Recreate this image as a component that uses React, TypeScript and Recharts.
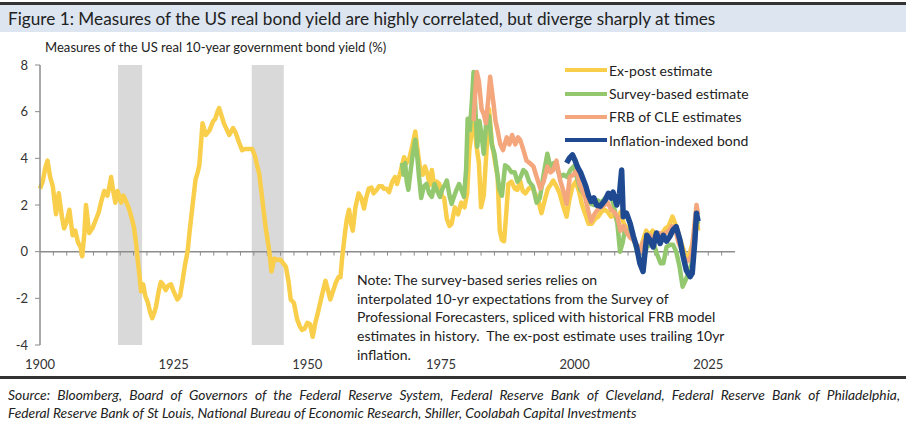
import React from 'react';
import { LineChart, Line, XAxis, YAxis, ReferenceArea, ReferenceLine } from 'recharts';

const yTicks = [-4, -2, 0, 2, 4, 6, 8];
const xTicks = [1900, 1925, 1950, 1975, 2000, 2025];
const zeroTicks = Array.from({ length: 51 }, (_, i) => 1902.5 + i * 2.5);
const recessions: [number, number][] = [
  [1914.6, 1919.1],
  [1939.6, 1945.6],
];

// [year, real yield %]
const exPost: [number, number][] = [
  [1900.0, 2.7], [1900.5, 3.0], [1901.0, 3.6], [1901.4, 3.9], [1901.9, 3.2], [1902.4, 2.8], [1903.0, 1.6],
  [1903.5, 2.5], [1904.1, 1.5], [1904.5, 1.0], [1905.0, 1.3], [1905.5, 1.8], [1906.1, 0.7], [1906.6, 0.9],
  [1907.1, 0.4], [1907.6, 0.2], [1907.9, -0.2], [1908.3, 0.8], [1908.6, 2.0], [1909.2, 0.8], [1909.8, 1.0],
  [1910.5, 1.4], [1911.0, 1.7], [1911.4, 2.1], [1912.0, 2.6], [1912.6, 2.4], [1913.0, 2.8], [1913.3, 3.2],
  [1913.7, 2.6], [1914.1, 2.1], [1914.5, 2.6], [1914.8, 2.4], [1915.2, 2.1], [1915.6, 2.4], [1916.2, 2.1],
  [1916.7, 1.8], [1917.2, 1.4], [1917.6, 1.0], [1918.0, 0.3], [1918.2, -0.2], [1918.6, -1.0], [1918.9, -1.7],
  [1919.3, -1.4], [1919.7, -1.9], [1920.2, -2.2], [1920.6, -2.6], [1921.0, -2.85], [1921.4, -2.6],
  [1921.7, -2.35], [1922.2, -1.7], [1922.6, -1.3], [1923.0, -1.4], [1923.5, -1.65], [1924.0, -1.45],
  [1924.5, -1.4], [1925.0, -1.7], [1925.7, -2.05], [1926.2, -1.9], [1926.6, -1.35], [1927.1, -0.6],
  [1927.6, 0.0], [1928.0, 0.9], [1928.5, 1.9], [1929.1, 3.1], [1929.5, 3.4], [1929.8, 3.7], [1930.1, 4.6],
  [1930.4, 5.5], [1931.0, 5.0], [1931.7, 5.2], [1932.4, 5.6], [1932.8, 5.7], [1933.2, 6.0], [1933.5, 6.15],
  [1934.0, 5.8], [1934.4, 5.5], [1935.0, 5.2], [1935.4, 5.0], [1936.1, 5.3], [1936.6, 5.1], [1937.2, 4.7],
  [1937.8, 4.35], [1938.3, 4.4], [1938.8, 4.4], [1939.3, 4.4], [1939.7, 4.4], [1940.2, 4.1], [1940.6, 3.7],
  [1941.0, 3.35], [1941.6, 2.2], [1942.2, 1.05], [1942.9, 0.0], [1943.3, -0.85], [1943.8, -0.3],
  [1944.4, -0.35], [1945.0, -0.35], [1945.5, -0.5], [1946.0, -0.65], [1946.5, -1.3], [1946.9, -2.05],
  [1947.5, -2.2], [1948.1, -2.9], [1948.6, -3.2], [1949.0, -3.35], [1949.5, -3.3], [1950.0, -3.05],
  [1950.5, -3.1], [1951.0, -3.65], [1951.5, -3.05], [1952.0, -2.6], [1952.4, -2.2], [1952.8, -1.8],
  [1953.4, -1.25], [1953.8, -1.6], [1954.3, -2.05], [1954.8, -1.7], [1955.3, -1.35], [1955.8, -1.1],
  [1956.2, -1.1], [1956.5, -0.3], [1956.8, 0.3], [1957.1, 0.9], [1957.4, 1.4], [1957.8, 1.8], [1958.2, 1.2],
  [1958.5, 0.9], [1959.0, 1.9], [1959.6, 2.5], [1960.1, 2.3], [1960.6, 1.85], [1961.0, 2.3], [1961.5, 2.7],
  [1962.0, 2.75], [1962.4, 2.5], [1963.0, 2.65], [1963.4, 2.8], [1964.0, 2.8], [1964.3, 2.7], [1964.8, 2.7],
  [1965.3, 2.55], [1965.9, 3.0], [1966.4, 3.2], [1966.8, 2.9], [1967.4, 3.4], [1968.1, 4.05], [1968.6, 3.8],
  [1969.1, 4.0], [1969.6, 4.5], [1970.2, 5.15], [1970.8, 4.05], [1971.2, 3.4], [1971.6, 3.3], [1972.0, 3.65],
  [1972.5, 3.3], [1972.9, 2.85], [1973.3, 3.5], [1973.8, 2.65], [1974.2, 3.0], [1974.7, 2.9], [1975.2, 2.35],
  [1975.6, 2.3], [1976.1, 1.4], [1976.6, 1.1], [1977.0, 1.2], [1977.6, 1.9], [1978.2, 1.6], [1978.8, 2.1],
  [1979.4, 1.9], [1979.9, 2.5], [1980.3, 4.35], [1980.8, 5.2], [1981.2, 5.8], [1981.6, 4.6], [1982.1, 3.8],
  [1982.5, 1.9], [1983.0, 2.4], [1983.4, 3.9], [1984.0, 6.1], [1984.5, 4.7], [1985.0, 4.0], [1985.6, 3.2],
  [1986.0, 0.9], [1986.4, 0.5], [1986.8, 0.45], [1987.2, 1.6], [1987.6, 2.9], [1988.2, 3.0], [1988.8, 2.7],
  [1989.3, 2.65], [1989.8, 3.05], [1990.3, 2.6], [1990.8, 2.5], [1991.4, 2.7], [1992.0, 2.8], [1992.6, 2.5],
  [1993.2, 2.2], [1993.8, 1.65], [1994.4, 2.2], [1995.0, 2.7], [1995.6, 2.9], [1996.0, 3.05], [1996.6, 2.8],
  [1997.2, 2.5], [1997.8, 2.0], [1998.5, 1.5], [1999.0, 2.2], [1999.6, 2.8], [2000.2, 3.0], [2000.8, 2.6],
  [2001.4, 2.0], [2002.0, 1.6], [2002.6, 1.2], [2003.2, 1.2], [2003.8, 1.4], [2004.4, 1.5], [2005.0, 1.7],
  [2005.6, 1.8], [2006.2, 1.7], [2006.8, 1.5], [2007.4, 1.6], [2008.0, 1.3], [2008.6, 1.7], [2009.2, 1.2],
  [2009.8, 1.0], [2010.4, 0.8], [2011.0, 0.5], [2011.6, 0.3], [2012.2, 0.0], [2012.8, 0.5], [2013.4, 0.9],
  [2014.0, 0.7], [2014.6, 0.9], [2015.2, 0.7], [2015.8, 0.6], [2016.4, 0.8], [2017.0, 1.0], [2017.6, 1.1],
  [2018.3, 1.5], [2018.8, 1.2], [2019.4, 0.8], [2019.9, 0.4], [2020.5, 0.0], [2020.9, -0.35], [2021.5, -0.1],
  [2022.0, 0.3], [2022.5, 1.0], [2022.9, 1.4], [2023.1, 0.9],
];

const survey: [number, number][] = [
  [1967.7, 3.8], [1968.0, 3.3], [1968.3, 3.8], [1968.6, 3.0], [1968.9, 2.65], [1969.4, 3.6], [1969.8, 4.3],
  [1970.2, 4.8], [1970.6, 4.0], [1970.9, 3.2], [1971.3, 2.3], [1971.8, 2.8], [1972.3, 2.9], [1972.8, 2.5],
  [1973.3, 2.35], [1973.8, 2.9], [1974.3, 2.6], [1974.8, 2.35], [1975.3, 2.7], [1975.8, 2.9], [1976.1, 3.05],
  [1976.6, 2.4], [1977.0, 2.05], [1977.5, 2.4], [1977.9, 2.65], [1978.4, 2.9], [1978.9, 2.6], [1979.3, 2.35],
  [1979.7, 3.5], [1980.0, 5.7], [1980.4, 5.2], [1980.8, 6.5], [1981.1, 7.7], [1981.4, 6.3], [1981.8, 4.5],
  [1982.2, 5.6], [1982.6, 5.0], [1983.0, 4.2], [1983.6, 5.9], [1984.0, 5.8], [1984.5, 4.6], [1985.0, 4.2],
  [1985.5, 3.4], [1985.9, 2.7], [1986.4, 2.4], [1987.0, 3.7], [1987.6, 3.6], [1988.2, 3.4], [1988.8, 3.4],
  [1989.3, 3.0], [1989.9, 3.2], [1990.4, 3.5], [1990.9, 3.4], [1991.5, 3.0], [1992.2, 2.8], [1992.9, 2.1],
  [1993.5, 2.3], [1994.2, 3.3], [1994.9, 4.2], [1995.5, 3.6], [1996.1, 3.8], [1996.7, 3.6], [1997.3, 3.2],
  [1997.9, 3.3], [1998.6, 3.2], [1999.2, 3.5], [1999.8, 3.65], [2000.4, 3.2], [2001.1, 2.65], [2001.7, 2.5],
  [2002.3, 2.3], [2003.0, 2.05], [2003.7, 2.0], [2004.3, 2.2], [2005.0, 2.1], [2005.7, 2.3], [2006.3, 2.4],
  [2006.7, 2.5], [2007.3, 2.0], [2008.0, 1.2], [2008.5, 0.0], [2009.0, 0.4], [2009.4, 0.95], [2010.0, 0.9],
  [2010.6, 0.6], [2011.1, 0.5], [2011.8, -0.1], [2012.4, -0.5], [2012.9, -0.3], [2013.5, 0.2], [2014.2, 0.3],
  [2014.8, 0.35], [2015.4, -0.1], [2016.1, -0.5], [2016.6, -0.5], [2017.2, 0.2], [2017.9, 0.3], [2018.4, 0.3],
  [2019.0, 0.0], [2019.6, -0.6], [2020.2, -1.5], [2020.8, -1.2], [2021.3, -0.9], [2021.9, -0.5],
  [2022.5, 0.8], [2022.8, 1.5], [2023.1, 1.2],
];

const frbCle: [number, number][] = [
  [1981.1, 5.6], [1981.4, 6.8], [1981.7, 7.7], [1982.1, 7.3], [1982.6, 6.1], [1983.0, 5.9], [1983.4, 5.5],
  [1983.8, 6.4], [1984.2, 7.5], [1984.8, 6.4], [1985.2, 5.6], [1985.5, 5.3], [1986.1, 4.6], [1986.6, 4.35],
  [1987.3, 4.9], [1987.8, 4.6], [1988.3, 5.0], [1988.9, 4.6], [1989.4, 4.9], [1989.8, 4.8], [1990.5, 4.3],
  [1991.0, 3.9], [1991.6, 3.8], [1992.3, 3.65], [1992.9, 3.2], [1993.6, 2.7], [1994.2, 3.0], [1994.9, 3.65],
  [1995.5, 3.4], [1996.0, 3.5], [1996.6, 3.9], [1997.3, 3.05], [1997.9, 2.6], [1998.5, 2.05], [1999.1, 3.2],
  [1999.8, 3.3], [2000.4, 3.5], [2000.9, 2.9], [2001.5, 2.6], [2002.0, 2.3], [2002.6, 1.7], [2003.1, 1.3],
  [2003.7, 1.6], [2004.3, 1.8], [2004.9, 1.9], [2005.6, 2.0], [2006.2, 2.1], [2006.8, 1.8], [2007.4, 1.7],
  [2008.0, 1.5], [2008.6, 0.9], [2009.2, 1.1], [2009.8, 0.8], [2010.4, 0.6], [2011.0, 0.5], [2011.6, 0.3],
  [2012.2, 0.0], [2012.8, 0.4], [2013.4, 0.5], [2014.0, 0.7], [2014.6, 0.6], [2015.2, 0.7], [2015.8, 0.8],
  [2016.4, 0.75], [2017.0, 0.8], [2017.6, 0.9], [2018.2, 1.1], [2018.8, 1.0], [2019.4, 0.4], [2020.0, 0.1],
  [2020.6, -0.3], [2021.2, -0.4], [2021.8, -0.2], [2022.3, 0.9], [2022.8, 2.0], [2023.1, 1.6],
];

const indexed: [number, number][] = [
  [1998.5, 3.8], [1999.0, 4.0], [1999.6, 4.15], [2000.1, 3.9], [2000.6, 3.6], [2001.1, 3.4], [2001.6, 3.1],
  [2002.1, 2.8], [2002.6, 2.4], [2003.1, 2.15], [2003.6, 2.3], [2004.1, 2.0], [2004.8, 1.95], [2005.7, 2.2],
  [2006.3, 2.5], [2006.8, 2.3], [2007.2, 2.55], [2007.9, 2.0], [2008.4, 2.5], [2008.8, 3.5], [2009.1, 1.5],
  [2009.7, 1.65], [2010.4, 1.2], [2011.0, 0.65], [2011.6, 0.2], [2012.2, -0.5], [2012.8, -0.85],
  [2013.5, 0.7], [2014.1, 0.5], [2014.7, 0.2], [2015.3, 0.8], [2016.0, 0.35], [2016.6, 0.7], [2017.2, 0.45],
  [2017.8, 0.65], [2018.4, 0.93], [2019.0, 1.07], [2019.7, 0.5], [2020.3, -0.2], [2020.9, -0.8],
  [2021.6, -1.07], [2022.0, -0.93], [2022.5, 0.5], [2022.8, 1.65], [2023.1, 1.3],
];

const toRows = (pts: [number, number][]) => pts.map(([x, v]) => ({ x, v }));

const series = [
  { name: 'Ex-post estimate', color: '#F9CE4A', width: 4.5, data: toRows(exPost) },
  { name: 'Survey-based estimate', color: '#93C86F', width: 4.5, data: toRows(survey) },
  { name: 'FRB of CLE estimates', color: '#F4A67C', width: 4.5, data: toRows(frbCle) },
  { name: 'Inflation-indexed bond', color: '#1F4A92', width: 5.5, data: toRows(indexed) },
];

const noteLines = [
  'Note: The survey-based series relies on',
  'interpolated 10-yr expectations from the Survey of',
  'Professional Forecasters, spliced with historical FRB model',
  'estimates in history.  The ex-post estimate uses trailing 10yr',
  'inflation.',
];

const FONT = 'Lato, "Liberation Sans", sans-serif';

export default function App() {
  return (
    <div
      style={{
        position: 'absolute',
        left: 0,
        top: 0,
        width: 906,
        height: 423,
        background: '#fff',
        fontFamily: FONT,
        color: '#222',
        overflow: 'hidden',
      }}
    >
      <div style={{ position: 'absolute', left: 0, top: 2, width: 906, height: 3, background: '#333' }} />
      <div
        style={{
          position: 'absolute',
          left: 0,
          top: 5,
          width: 906,
          height: 27,
          background: '#DCE5F0',
          fontSize: 17.2,
          lineHeight: '27px',
          paddingLeft: 8,
          boxSizing: 'border-box',
          whiteSpace: 'nowrap',
        }}
      >
        Figure 1: Measures of the US real bond yield are highly correlated, but diverge sharply at times
      </div>
      <div style={{ position: 'absolute', left: 45, top: 39, fontSize: 13.1, whiteSpace: 'nowrap' }}>
        Measures of the US real 10-year government bond yield (%)
      </div>

      <LineChart
        width={906}
        height={423}
        margin={{ top: 65, right: 171, bottom: 48, left: 0 }}
        style={{ position: 'absolute', left: 0, top: 0 }}
      >
        <XAxis
          dataKey="x"
          type="number"
          domain={[1900, 2030]}
          ticks={xTicks}
          allowDuplicatedCategory={false}
          axisLine={false}
          tickLine={false}
          tickSize={0}
          tickMargin={15}
          height={30}
          tick={{ fontSize: 13, fill: '#333', fontFamily: FONT }}
        />
        <YAxis
          domain={[-4, 8]}
          ticks={yTicks}
          width={40}
          axisLine={{ stroke: '#8c8c8c', strokeWidth: 1.5 }}
          tickLine={{ stroke: '#8c8c8c' }}
          tickSize={5}
          tickMargin={7}
          tick={{ fontSize: 13, fill: '#333', fontFamily: FONT }}
        />
        {recessions.map(([a, b]) => (
          <ReferenceArea key={a} x1={a} x2={b} y1={-4} y2={8} fill="#D9D9D9" fillOpacity={1} stroke="none" />
        ))}
        <ReferenceLine y={0} stroke="#8c8c8c" strokeWidth={1.5} />
        {zeroTicks.map((t) => (
          <ReferenceLine
            key={t}
            segment={[
              { x: t, y: 0 },
              { x: t, y: -0.17 },
            ]}
            stroke="#8c8c8c"
            strokeWidth={1}
          />
        ))}
        {series.map((s) => (
          <Line
            key={s.name}
            data={s.data}
            dataKey="v"
            name={s.name}
            type="linear"
            stroke={s.color}
            strokeWidth={s.width}
            strokeLinejoin="round"
            dot={false}
            activeDot={false}
            isAnimationActive={false}
          />
        ))}
      </LineChart>

      <div style={{ position: 'absolute', left: 565, top: 58.5, fontSize: 14 }}>
        {series.map((s) => (
          <div key={s.name} style={{ display: 'flex', alignItems: 'center', height: 23.4 }}>
            <div style={{ width: 42, height: 4, background: s.color, marginRight: 2 }} />
            <span style={{ whiteSpace: 'nowrap' }}>{s.name}</span>
          </div>
        ))}
      </div>

      <div style={{ position: 'absolute', left: 357, top: 271, fontSize: 14, lineHeight: '18.7px' }}>
        {noteLines.map((l, i) => (
          <div key={i} style={{ whiteSpace: 'pre' }}>
            {l}
          </div>
        ))}
      </div>

      <div style={{ position: 'absolute', left: 0, top: 376, width: 906, height: 3, background: '#333' }} />
      <div
        style={{
          position: 'absolute',
          left: 8,
          top: 386,
          width: 892,
          fontSize: 13.8,
          lineHeight: '18px',
          fontStyle: 'italic',
        }}
      >
        <div style={{ textAlign: 'justify', textAlignLast: 'justify', whiteSpace: 'nowrap' }}>
          Source: Bloomberg, Board of Governors of the Federal Reserve System, Federal Reserve Bank of Cleveland, Federal
          Reserve Bank of Philadelphia,
        </div>
        <div style={{ whiteSpace: 'nowrap' }}>
          Federal Reserve Bank of St Louis, National Bureau of Economic Research, Shiller, Coolabah Capital Investments
        </div>
      </div>
    </div>
  );
}
